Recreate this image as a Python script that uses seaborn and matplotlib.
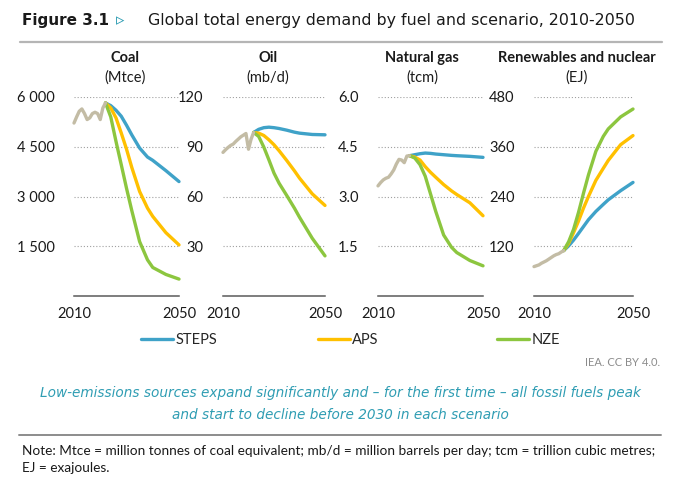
import numpy as np
import pandas as pd
import matplotlib
matplotlib.use("Agg")
import matplotlib.pyplot as plt
import seaborn as sns

# -----------------------------
# DATA
# -----------------------------
years_hist = [2010, 2011, 2012, 2013, 2014, 2015, 2016, 2017, 2018, 2019, 2020, 2021, 2022]
years_proj = [2022, 2024, 2026, 2028, 2030, 2032, 2035, 2038, 2040, 2045, 2050]

coal_hist = [5215, 5400, 5570, 5640, 5500, 5320, 5370, 5500, 5540, 5500, 5320, 5670, 5820]
coal_steps = [5820, 5740, 5600, 5420, 5150, 4860, 4460, 4190, 4090, 3780, 3450]
coal_aps = [5820, 5670, 5370, 4915, 4430, 3880, 3150, 2650, 2400, 1910, 1540]
coal_nze = [5820, 5400, 4660, 3960, 3250, 2580, 1640, 1090, 860, 650, 510]

oil_hist = [86.6, 88.2, 89.6, 90.8, 91.6, 93.2, 94.6, 96.0, 97.0, 98.0, 88.5, 94.5, 98.6]
oil_steps = [98.6, 100.5, 101.5, 101.8, 101.5, 101.0, 100.0, 98.8, 98.2, 97.4, 97.2]
oil_aps = [98.6, 98.2, 96.8, 94.2, 91.2, 87.6, 81.7, 75.5, 71.1, 61.6, 54.6]
oil_nze = [98.6, 96.2, 89.8, 82.1, 74.1, 68.0, 60.6, 53.0, 47.5, 34.8, 24.2]

gas_hist = [3.32, 3.42, 3.50, 3.55, 3.58, 3.68, 3.80, 3.98, 4.12, 4.10, 4.02, 4.22, 4.23]
gas_steps = [4.23, 4.26, 4.29, 4.31, 4.30, 4.28, 4.26, 4.24, 4.23, 4.21, 4.18]
gas_aps = [4.23, 4.19, 4.10, 3.90, 3.73, 3.58, 3.36, 3.17, 3.06, 2.81, 2.42]
gas_nze = [4.23, 4.16, 3.96, 3.61, 3.08, 2.55, 1.84, 1.47, 1.31, 1.07, 0.91]

ren_hist = [70.9, 73, 75, 79, 82, 85, 89, 93, 97, 100, 102, 106, 109.5]
ren_steps = [109.5, 121, 135, 151, 167.5, 184, 204, 221, 232, 254, 274]
ren_aps = [109.5, 127, 153, 181, 212, 240, 279, 308, 327, 365, 387]
ren_nze = [109.5, 131, 161, 202, 248, 292, 349, 385, 403, 432, 451]

scenarios = ["STEPS", "APS", "NZE"]
panel_titles = ["Coal", "Oil", "Natural gas", "Renewables and nuclear"]
panel_units = ["(Mtce)", "(mb/d)", "(tcm)", "(EJ)"]
coal_ticks = [1500, 3000, 4500, 6000]
oil_ticks = [30, 60, 90, 120]
gas_ticks = [1.5, 3.0, 4.5, 6.0]
ren_ticks = [120, 240, 360, 480]
coal_labels = ["1 500", "3 000", "4 500", "6 000"]
oil_labels = ["30", "60", "90", "120"]
gas_labels = ["1.5", "3.0", "4.5", "6.0"]
ren_labels = ["120", "240", "360", "480"]

# -----------------------------
# STYLE
# -----------------------------
sns.set_theme(style="white")
plt.rcParams["font.family"] = ["Lato", "DejaVu Sans"]

palette = {"STEPS": "#3fa2c8", "APS": "#ffc000", "NZE": "#8cc63f"}
hist_color = "#c3bca5"
teal = "#2f9db3"

W, H = 680, 480
fig = plt.figure(figsize=(6.8, 4.8), dpi=100)


def fx(x):
    return x / W


def fy(y):
    return 1 - y / H


panels = [
    (coal_hist, coal_steps, coal_aps, coal_nze, coal_ticks, coal_labels, 74, 179, 125),
    (oil_hist, oil_steps, oil_aps, oil_nze, oil_ticks, oil_labels, 223, 325, 268),
    (gas_hist, gas_steps, gas_aps, gas_nze, gas_ticks, gas_labels, 378, 483, 422),
    (ren_hist, ren_steps, ren_aps, ren_nze, ren_ticks, ren_labels, 534, 633, 577),
]

top_px, base_px = 97, 296
for i, (hist, steps, aps, nze, ticks, labels, x0, x1, tx) in enumerate(panels):
    ax = fig.add_axes([fx(x0), fy(base_px), (x1 - x0) / W, (base_px - top_px) / H])
    df = pd.DataFrame({
        "year": years_proj * 3,
        "value": steps + aps + nze,
        "scenario": ["STEPS"] * len(steps) + ["APS"] * len(aps) + ["NZE"] * len(nze),
    })
    for t in ticks:
        ax.axhline(t, color="#a0a0a0", lw=0.8, ls=(0, (1, 1.8)), zorder=0)
    sns.lineplot(data=df, x="year", y="value", hue="scenario", hue_order=scenarios,
                 palette=palette, lw=2.4, legend=False, ax=ax, clip_on=False)
    sns.lineplot(x=years_hist, y=hist, color=hist_color, lw=2.4, ax=ax, clip_on=False)

    ax.set_xlim(2010, 2050)
    ax.set_ylim(0, ticks[-1])
    ax.set_xticks([2010, 2050])
    ax.set_xticklabels(["2010", "2050"], fontsize=10.5, color="#1a1a1a")
    ax.set_yticks(ticks)
    ax.set_yticklabels(labels, fontsize=10.5, color="#1a1a1a")
    ax.tick_params(axis="both", length=0)
    ax.tick_params(axis="y", pad=14)
    ax.tick_params(axis="x", pad=8)
    ax.set_xlabel("")
    ax.set_ylabel("")
    for s in ["top", "right", "left"]:
        ax.spines[s].set_visible(False)
    ax.spines["bottom"].set_color("#5a5a5a")
    ax.spines["bottom"].set_linewidth(1.1)
    ax.patch.set_alpha(0)

    fig.text(fx(tx), fy(58), panel_titles[i], ha="center", va="center",
             fontsize=10.5, fontweight="bold", color="#1a1a1a")
    fig.text(fx(tx), fy(78), panel_units[i], ha="center", va="center",
             fontsize=10.5, color="#1a1a1a")

# -----------------------------
# LEGEND (one entry per scenario, spaced like the reference)
# -----------------------------
legend_x = [141, 318, 497]
for s, lx in zip(scenarios, legend_x):
    h = plt.Line2D([], [], color=palette[s], lw=2.4)
    fig.legend([h], [s], loc="center left", bbox_to_anchor=(fx(lx), fy(340)),
               frameon=False, fontsize=10.5, handlelength=2.2, handletextpad=0.15,
               borderpad=0, borderaxespad=0)

# -----------------------------
# HEADER / FOOTER TEXT
# -----------------------------
fig.text(fx(22), fy(21), "Figure 3.1", ha="left", va="center", fontsize=11,
         fontweight="bold", color="#1a1a1a", family=["DejaVu Sans"])
fig.text(fx(116), fy(20), "\u25b9", ha="left", va="center", fontsize=12,
         color=teal, family=["DejaVu Sans"])
fig.text(fx(148), fy(21), "Global total energy demand by fuel and scenario, 2010-2050",
         ha="left", va="center", fontsize=11.4, color="#1a1a1a", family=["DejaVu Sans"])
fig.add_artist(plt.Line2D([fx(20), fx(662)], [fy(42), fy(42)], color="#b5b5b5", lw=1.6))

fig.text(fx(660), fy(363), "IEA. CC BY 4.0.", ha="right", va="center",
         fontsize=8, color="#8c8c8c")
fig.text(fx(340), fy(393),
         "Low-emissions sources expand significantly and \u2013 for the first time \u2013 all fossil fuels peak",
         ha="center", va="center", fontsize=9.8, style="italic", color=teal, family=["DejaVu Sans"])
fig.text(fx(340), fy(415), "and start to decline before 2030 in each scenario",
         ha="center", va="center", fontsize=9.8, style="italic", color=teal, family=["DejaVu Sans"])
fig.add_artist(plt.Line2D([fx(19), fx(661)], [fy(435), fy(435)], color="#8c8c8c", lw=1.4))

fig.text(fx(22), fy(451),
         "Note: Mtce = million tonnes of coal equivalent; mb/d = million barrels per day; tcm = trillion cubic metres;",
         ha="left", va="center", fontsize=9.8, color="#1a1a1a")
fig.text(fx(22), fy(468), "EJ = exajoules.", ha="left", va="center", fontsize=9.8, color="#1a1a1a")

fig.savefig("out.png", dpi=100, facecolor="white")
